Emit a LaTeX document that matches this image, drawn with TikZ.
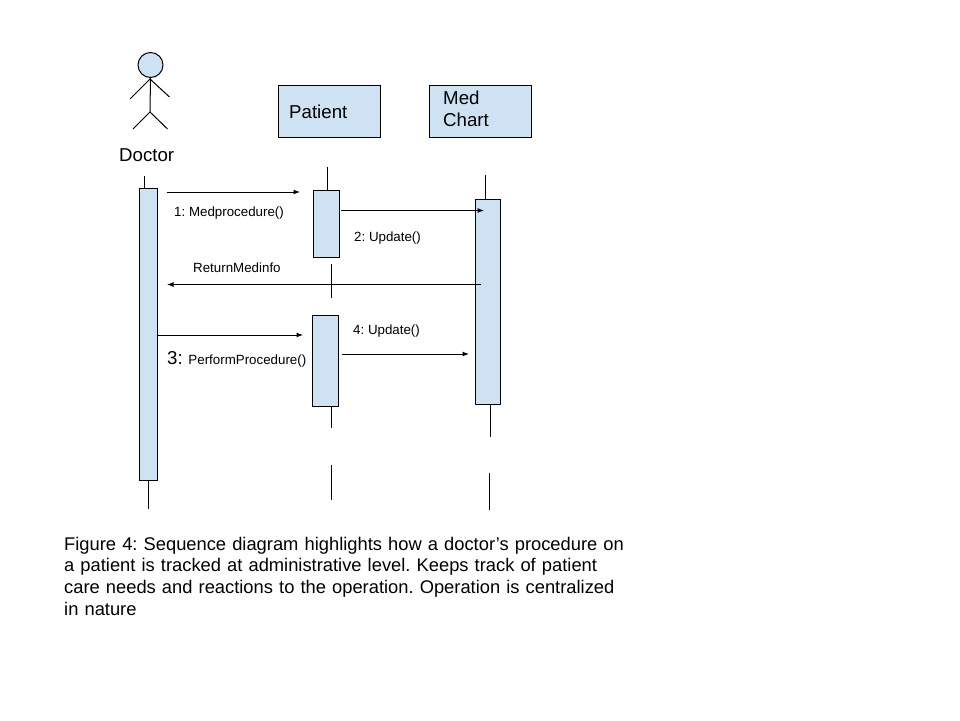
\documentclass[tikz,border=0pt]{standalone}
\usepackage{fontspec}
\setmainfont{Liberation Sans}
\usetikzlibrary{arrows.meta}
\definecolor{boxblue}{HTML}{CFE2F3}
\tikzset{
  x=1pt,y=-1pt,
  pbox/.style={draw=black,fill=boxblue,line width=1pt,minimum width=#1,inner sep=0pt,outer sep=0pt},
  lifeline/.style={draw=black,line width=1pt},
  msg/.style={draw=black,line width=1pt,-{Latex[length=6.5pt,width=5pt]}},
  stick/.style={draw=black,line width=1pt},
  small/.style={font=\frenchspacing\fontsize{13.33}{16}\selectfont,inner sep=0pt,anchor=base west},
  big/.style={font=\frenchspacing\fontsize{18.67}{22}\selectfont,inner sep=0pt,anchor=base west,align=left},
  captiontext/.style={font=\frenchspacing\fontsize{18.33}{21.9}\selectfont,inner sep=0pt,anchor=base west,align=left},
}
\newcommand{\actbox}[5]{\node[pbox=#4-#2,minimum height=#5-#3,anchor=north west] (#1) at (#2,#3) {};}
\begin{document}
\begin{tikzpicture}
\useasboundingbox (0,0) rectangle (960,720);
% actor
\node[circle,draw=black,fill=boxblue,line width=1pt,minimum size=25pt,inner sep=0pt] (head) at (150.5,65) {};
\coordinate (neck) at (150,79);
\coordinate (hip) at (150,112);
\coordinate (handl) at (130,99);
\coordinate (handr) at (169.5,97);
\coordinate (footl) at (133,129);
\coordinate (footr) at (167.5,129);
\draw[stick] (head.south) -- (hip);
\draw[stick] (handl) -- (neck) -- (handr);
\draw[stick] (footl) -- (hip) -- (footr);
\node[big] (doctor) at (119,161) {Doctor};
% header boxes
\actbox{patient}{278.5}{85.5}{380}{137}
\actbox{chart}{429.5}{85.5}{531}{137}
\node[big] (patientlabel) at (289,118.5) {Patient};
\node[big,text width=70pt] (chartlabel) at (443,104.5) {Med\\Chart};
% activation bars
\actbox{docbar}{139}{188}{157}{480}
\actbox{patbarA}{313}{190}{339.5}{257}
\actbox{patbarB}{312}{315}{338.5}{406}
\actbox{medbar}{475}{199}{500}{404}
% lifelines
\coordinate (ld1) at (144.5,176);
\coordinate (ld1e) at (144.5,188);
\coordinate (ld2) at (148,481);
\coordinate (ld2e) at (148,509);
\draw[lifeline] (ld1) -- (ld1e);
\draw[lifeline] (ld2) -- (ld2e);
\coordinate (lp1) at (327,167);
\coordinate (lp1e) at (327,190);
\coordinate (lp2) at (331,264);
\coordinate (lp2e) at (331,298);
\coordinate (lp3) at (331,406);
\coordinate (lp3e) at (331,428);
\coordinate (lp4) at (331,465);
\coordinate (lp4e) at (331,500);
\draw[lifeline] (lp1) -- (lp1e);
\draw[lifeline] (lp2) -- (lp2e);
\draw[lifeline] (lp3) -- (lp3e);
\draw[lifeline] (lp4) -- (lp4e);
\coordinate (lm1) at (485,175);
\coordinate (lm1e) at (485,199);
\coordinate (lm2) at (490,404);
\coordinate (lm2e) at (490,437);
\coordinate (lm3) at (489,473);
\coordinate (lm3e) at (489,510);
\draw[lifeline] (lm1) -- (lm1e);
\draw[lifeline] (lm2) -- (lm2e);
\draw[lifeline] (lm3) -- (lm3e);
% messages
\coordinate (m1a) at (167,192); \coordinate (m1b) at (300,192);
\coordinate (m2a) at (341,210.5); \coordinate (m2b) at (484,210.5);
\coordinate (m3a) at (481,284.5); \coordinate (m3b) at (167,284.5);
\coordinate (m4a) at (158,335); \coordinate (m4b) at (303,335);
\coordinate (m5a) at (342,354); \coordinate (m5b) at (469,354);
\draw[msg] (m1a) -- (m1b);
\draw[msg] (m2a) -- (m2b);
\draw[msg] (m3a) -- (m3b);
\draw[msg] (m4a) -- (m4b);
\draw[msg] (m5a) -- (m5b);
% labels
\node[small] (l1) at (174,216) {1: Medprocedure()};
\node[small] (l2) at (354,241) {2: Update()};
\node[small] (l3) at (193,272) {ReturnMedinfo};
\node[small] (l4) at (353,334.5) {4: Update()};
\node[small] (l5) at (167,364) {{\fontsize{18.67}{22}\selectfont 3:}\hspace{2pt} PerformProcedure()};
% caption
\node[captiontext,text width=600pt] (caption) at (64,550) {Figure 4: Sequence diagram highlights how a doctor’s procedure on\\
a patient is tracked at administrative level. Keeps track of patient\\
care needs and reactions to the operation. Operation is centralized\\
in nature};
\end{tikzpicture}
\end{document}
